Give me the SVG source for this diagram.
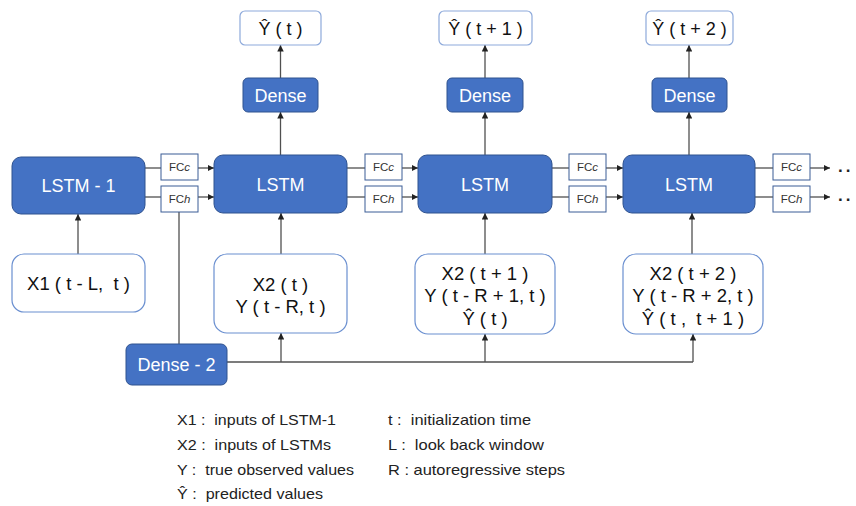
<svg xmlns="http://www.w3.org/2000/svg" width="856" height="506" viewBox="0 0 856 506">
<defs>
<style>
.blue{fill:#4472C4;stroke:#2F528F;stroke-width:1}
.wbox{fill:#fff;stroke:#6A8FD0;stroke-width:1.2}
.ybox{fill:#fff;stroke:#8EAADB;stroke-width:1.2}
.fc{fill:#fff;stroke:#3B5C96;stroke-width:1}
.wt{font-family:"Liberation Sans",Arial,sans-serif;fill:#fff;text-anchor:middle}
.bt{font-family:"Liberation Sans",Arial,sans-serif;fill:#111;text-anchor:middle;white-space:pre}
.ft{font-family:"Liberation Sans",Arial,sans-serif;fill:#333;text-anchor:middle;font-size:11.5px}
.lg{font-family:"Liberation Sans",Arial,sans-serif;fill:#222;font-size:15px;white-space:pre}
.ln{stroke:#505050;stroke-width:1.3;fill:none}
.ar{stroke:#505050;stroke-width:1.3;fill:none;marker-end:url(#ah)}
</style>
<marker id="ah" viewBox="0 0 10 10" refX="10" refY="5" markerWidth="5" markerHeight="5" orient="auto" markerUnits="strokeWidth">
<path d="M0,0 L10,5 L0,10 z" fill="#222"/>
</marker>
</defs>

<g id="connectors">
<line class="ar" x1="280.5" y1="155" x2="280.5" y2="112"/>
<line class="ar" x1="280.5" y1="78" x2="280.5" y2="45"/>
<line class="ar" x1="485" y1="155" x2="485" y2="112"/>
<line class="ar" x1="485" y1="78" x2="485" y2="45"/>
<line class="ar" x1="689" y1="155" x2="689" y2="112"/>
<line class="ar" x1="689" y1="78" x2="689" y2="45"/>
<line class="ln" x1="145" y1="168" x2="161" y2="168"/>
<line class="ln" x1="145" y1="197" x2="161" y2="197"/>
<line class="ar" x1="198" y1="168" x2="214" y2="168"/>
<line class="ar" x1="198" y1="197" x2="214" y2="197"/>
<line class="ln" x1="347" y1="168" x2="365" y2="168"/>
<line class="ln" x1="347" y1="197" x2="365" y2="197"/>
<line class="ar" x1="402" y1="168" x2="418" y2="168"/>
<line class="ar" x1="402" y1="197" x2="418" y2="197"/>
<line class="ln" x1="552" y1="168" x2="569" y2="168"/>
<line class="ln" x1="552" y1="197" x2="569" y2="197"/>
<line class="ar" x1="606" y1="168" x2="623" y2="168"/>
<line class="ar" x1="606" y1="197" x2="623" y2="197"/>
<line class="ln" x1="755" y1="168" x2="773" y2="168"/>
<line class="ln" x1="755" y1="197" x2="773" y2="197"/>
<line class="ar" x1="810" y1="168" x2="830" y2="168"/>
<line class="ar" x1="810" y1="197" x2="830" y2="197"/>
<line class="ar" x1="78" y1="254" x2="78" y2="214"/>
<line class="ar" x1="281" y1="254" x2="281" y2="213"/>
<line class="ar" x1="485" y1="254" x2="485" y2="213"/>
<line class="ar" x1="692" y1="262" x2="692" y2="213"/>
<line class="ln" x1="179" y1="212" x2="179" y2="344"/>
<line class="ln" x1="227" y1="362" x2="693" y2="362"/>
<line class="ar" x1="281" y1="362" x2="281" y2="333"/>
<line class="ar" x1="485" y1="362" x2="485" y2="334"/>
<line class="ar" x1="693" y1="362" x2="693" y2="334"/>
<text x="838" y="172" class="lg" style="font-size:17px;font-weight:bold;letter-spacing:3px">..</text>
<text x="838" y="201" class="lg" style="font-size:17px;font-weight:bold;letter-spacing:3px">..</text>
</g>

<g id="lstm1"><rect class="blue" x="12" y="157" width="133" height="57" rx="9"/><text class="wt" x="78.5" y="192" font-size="18">LSTM - 1</text></g>
<g id="lstm2"><rect class="blue" x="214" y="155" width="133" height="58" rx="9"/><text class="wt" x="280.5" y="191" font-size="18">LSTM</text></g>
<g id="lstm3"><rect class="blue" x="418" y="155" width="134" height="58" rx="9"/><text class="wt" x="485" y="191" font-size="18">LSTM</text></g>
<g id="lstm4"><rect class="blue" x="623" y="155" width="132" height="58" rx="9"/><text class="wt" x="689" y="191" font-size="18">LSTM</text></g>

<g id="dense1"><rect class="blue" x="243" y="78" width="75" height="34" rx="5"/><text class="wt" x="280.5" y="101.5" font-size="18">Dense</text></g>
<g id="dense2"><rect class="blue" x="447" y="78" width="76" height="34" rx="5"/><text class="wt" x="485" y="101.5" font-size="18">Dense</text></g>
<g id="dense3"><rect class="blue" x="652" y="78" width="75" height="34" rx="5"/><text class="wt" x="689.5" y="101.5" font-size="18">Dense</text></g>
<g id="denseM2"><rect class="blue" x="126" y="344" width="101" height="41" rx="6"/><text class="wt" x="176.5" y="371" font-size="18">Dense - 2</text></g>

<g id="yhat1"><rect class="ybox" x="240" y="11" width="81" height="34" rx="5"/><text class="bt" x="280.5" y="34.5" font-size="18">Ŷ ( t )</text></g>
<g id="yhat2"><rect class="ybox" x="439" y="11" width="93" height="34" rx="5"/><text class="bt" x="485.5" y="34.5" font-size="18">Ŷ ( t + 1 )</text></g>
<g id="yhat3"><rect class="ybox" x="646" y="11" width="87" height="34" rx="5"/><text class="bt" x="689.5" y="34.5" font-size="18">Ŷ ( t + 2 )</text></g>

<g id="fc1c"><rect class="fc" x="161" y="154" width="37" height="26"/><text class="ft" x="179.5" y="171">FC<tspan font-style="italic">c</tspan></text></g>
<g id="fc1h"><rect class="fc" x="161" y="186" width="37" height="26"/><text class="ft" x="179.5" y="203">FC<tspan font-style="italic">h</tspan></text></g>
<g id="fc2c"><rect class="fc" x="365" y="154" width="37" height="26"/><text class="ft" x="383.5" y="171">FC<tspan font-style="italic">c</tspan></text></g>
<g id="fc2h"><rect class="fc" x="365" y="186" width="37" height="26"/><text class="ft" x="383.5" y="203">FC<tspan font-style="italic">h</tspan></text></g>
<g id="fc3c"><rect class="fc" x="569" y="154" width="37" height="26"/><text class="ft" x="587.5" y="171">FC<tspan font-style="italic">c</tspan></text></g>
<g id="fc3h"><rect class="fc" x="569" y="186" width="37" height="26"/><text class="ft" x="587.5" y="203">FC<tspan font-style="italic">h</tspan></text></g>
<g id="fc4c"><rect class="fc" x="773" y="154" width="37" height="26"/><text class="ft" x="791.5" y="171">FC<tspan font-style="italic">c</tspan></text></g>
<g id="fc4h"><rect class="fc" x="773" y="186" width="37" height="26"/><text class="ft" x="791.5" y="203">FC<tspan font-style="italic">h</tspan></text></g>

<g id="x1"><rect class="wbox" x="12" y="254" width="133" height="58" rx="12"/><text class="bt" x="78.5" y="289.5" font-size="18.5">X1 ( t - L,  t )</text></g>
<g id="x2a"><rect class="wbox" x="214" y="254" width="133" height="79" rx="13"/><text class="bt" x="280.5" y="290.5" font-size="18.5">X2 ( t )</text><text class="bt" x="280.5" y="312.5" font-size="18.5">Y ( t - R, t )</text></g>
<g id="x2b"><rect class="wbox" x="415" y="254" width="140" height="80" rx="13"/><text class="bt" x="485" y="279.5" font-size="18.5">X2 ( t + 1 )</text><text class="bt" x="485" y="302" font-size="18.5">Y ( t - R + 1, t )</text><text class="bt" x="485" y="324.5" font-size="18.5">Ŷ ( t )</text></g>
<g id="x2c"><rect class="wbox" x="623" y="254" width="140" height="80" rx="13"/><text class="bt" x="693" y="279.5" font-size="18.5">X2 ( t + 2 )</text><text class="bt" x="693" y="302" font-size="18.5">Y ( t - R + 2, t )</text><text class="bt" x="693" y="324.5" font-size="18.5">Ŷ ( t ,  t + 1 )</text></g>

<g id="legend">
<text class="lg" x="177" y="425" textLength="159" lengthAdjust="spacingAndGlyphs">X1 :  inputs of LSTM-1</text>
<text class="lg" x="177" y="450" textLength="154" lengthAdjust="spacingAndGlyphs">X2 :  inputs of LSTMs</text>
<text class="lg" x="177" y="475" textLength="177" lengthAdjust="spacingAndGlyphs">Y :  true observed values</text>
<text class="lg" x="177" y="499" textLength="146" lengthAdjust="spacingAndGlyphs">Ŷ :  predicted values</text>
<text class="lg" x="388" y="425" textLength="143" lengthAdjust="spacingAndGlyphs">t :  initialization time</text>
<text class="lg" x="388" y="450" textLength="156" lengthAdjust="spacingAndGlyphs">L :  look back window</text>
<text class="lg" x="388" y="475" textLength="177" lengthAdjust="spacingAndGlyphs">R : autoregressive steps</text>
</g>
</svg>
